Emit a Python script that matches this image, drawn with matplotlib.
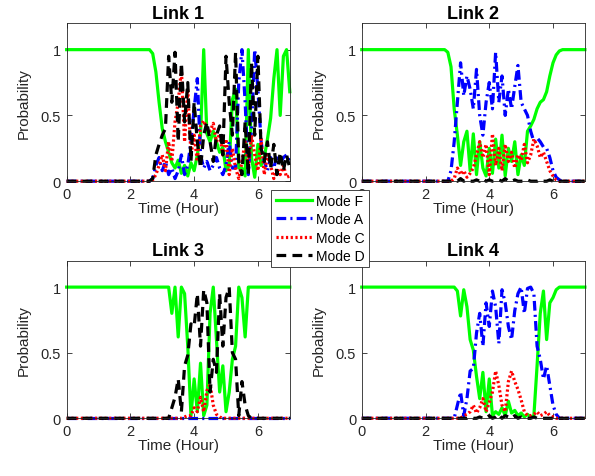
import matplotlib
matplotlib.use("Agg")
import matplotlib.pyplot as plt
import numpy as np

plt.rcParams['font.family'] = ['Liberation Sans', 'DejaVu Sans']
plt.rcParams['lines.scale_dashes'] = False

# Time axis (hours), one sample every 0.1 h
hours = np.arange(71) / 10.0

titles = ['Link 1', 'Link 2', 'Link 3', 'Link 4']
mode_names = ['Mode F', 'Mode A', 'Mode C', 'Mode D']
x_ticks = [0, 2, 4, 6]
y_ticks = [0, 0.5, 1]
y_tick_labels = ['0', '0.5', '1']

# Link 1 (changes from 2.6 h to the end)
link1_F = [1.0] * 26 + [1.0, 0.97, 0.83, 0.6, 0.4, 0.3, 0.22, 0.14, 0.1, 0.16,
                        0.06, 0.12, 0.04, 0.14, 0.08, 0.2, 0.35, 1.0, 0.36, 0.3,
                        0.38, 0.3, 0.22, 0.26, 0.08, 0.12, 0.62, 0.7, 0.1, 0.1,
                        0.04, 1.0, 0.18, 0.03, 0.28, 0.12, 0.18, 0.32, 0.48, 0.78,
                        1.0, 0.5, 0.95, 1.0, 0.68]
link1_A = [0.0] * 26 + [0.0, 0.02, 0.12, 0.18, 0.08, 0.15, 0.05, 0.1, 0.02, 0.08,
                        0.2, 0.05, 0.12, 0.3, 0.55, 0.78, 0.2, 0.1, 0.15, 0.08,
                        0.12, 0.18, 0.1, 0.05, 0.12, 0.3, 0.1, 0.1, 0.75, 1.0,
                        0.6, 0.05, 0.4, 1.0, 0.7, 0.3, 0.15, 0.08, 0.18, 0.1,
                        0.2, 0.14, 0.18, 0.2, 0.15]
link1_C = [0.0] * 26 + [0.0, 0.01, 0.05, 0.12, 0.2, 0.08, 0.3, 0.15, 0.45, 0.6,
                        0.85, 0.3, 0.7, 0.2, 0.35, 0.15, 0.42, 0.46, 0.4, 0.38,
                        0.44, 0.3, 0.36, 0.2, 0.32, 0.05, 0.25, 0.1, 0.02, 0.15,
                        0.3, 0.1, 0.35, 0.2, 0.08, 0.32, 0.05, 0.2, 0.12, 0.02,
                        0.1, 0.05, 0.12, 0.03, 0.04]
link1_D = [0.0] * 26 + [0.0, 0.02, 0.2, 0.28, 0.35, 0.4, 0.95, 0.6, 0.98, 0.3,
                        0.9, 0.45, 0.75, 0.15, 0.6, 0.3, 0.1, 0.35, 0.45, 0.3,
                        0.15, 0.35, 0.42, 0.2, 0.95, 0.6, 0.35, 0.98, 0.15, 0.05,
                        0.45, 0.05, 0.9, 0.35, 0.95, 0.25, 0.15, 0.3, 0.1, 0.28,
                        0.05, 0.22, 0.08, 0.2, 0.1]

# Link 2 (changes from 2.7 h to 6.3 h)
link2_F = [1.0] * 27 + [0.98, 0.87, 0.55, 0.35, 0.12, 0.3, 0.38, 0.08, 0.36, 0.05,
                        0.3, 0.1, 0.04, 0.25, 0.06, 0.32, 0.1, 0.35, 0.04, 0.25,
                        0.15, 0.3, 0.05, 0.2, 0.12, 0.38, 0.42, 0.47, 0.55, 0.6,
                        0.62, 0.68, 0.8, 0.9, 0.96, 0.99, 1.0] + [1.0] * 7
link2_A = [0.0] * 27 + [0.0, 0.08, 0.3, 0.6, 0.9, 0.65, 0.8, 0.7, 0.55, 0.85,
                        0.5, 0.35, 0.6, 0.75, 0.55, 0.98, 0.6, 0.8, 0.5, 0.7,
                        0.55, 0.72, 0.88, 0.6, 0.55, 0.5, 0.38, 0.3, 0.33, 0.3,
                        0.26, 0.25, 0.18, 0.08, 0.03, 0.01, 0.0] + [0.0] * 7
link2_C = [0.0] * 27 + [0.0, 0.0, 0.02, 0.1, 0.05, 0.08, 0.03, 0.06, 0.1, 0.2,
                        0.3, 0.18, 0.28, 0.05, 0.36, 0.12, 0.25, 0.08, 0.28, 0.15,
                        0.22, 0.1, 0.2, 0.16, 0.28, 0.14, 0.2, 0.32, 0.27, 0.18,
                        0.22, 0.15, 0.08, 0.04, 0.01, 0.0, 0.0] + [0.0] * 7
link2_D = [0.0] * 27 + [0.0, 0.0, 0.01, 0.0, 0.02, 0.0, 0.01, 0.0, 0.0, 0.01,
                        0.0, 0.02, 0.0, 0.01, 0.0, 0.0, 0.01, 0.0, 0.02, 0.0,
                        0.0, 0.01, 0.0, 0.0, 0.0, 0.01, 0.0, 0.0, 0.0, 0.01,
                        0.0, 0.0, 0.01, 0.0, 0.0, 0.0, 0.0] + [0.0] * 7

# Link 3 (changes from 3.2 h to 5.8 h)
link3_F = [1.0] * 32 + [1.0, 0.8, 1.0, 0.62, 1.0, 0.95, 0.55, 0.02, 0.3, 0.05,
                        0.42, 0.02, 0.1, 0.8, 1.0, 0.6, 0.2, 0.4, 0.05, 0.2,
                        0.45, 0.55, 1.0, 0.92, 0.62, 1.0, 1.0] + [1.0] * 12
link3_A = [0.0] * 71
link3_C = [0.0] * 32 + [0.0, 0.0, 0.0, 0.0, 0.0, 0.01, 0.02, 0.02, 0.08, 0.05,
                        0.16, 0.05, 0.21, 0.26, 0.1, 0.03, 0.01, 0.0, 0.0, 0.0,
                        0.0, 0.0, 0.0, 0.0, 0.0, 0.0, 0.0] + [0.0] * 12
link3_D = [0.0] * 32 + [0.0, 0.08, 0.16, 0.3, 0.05, 0.4, 0.48, 0.72, 0.7, 0.95,
                        0.55, 0.98, 0.88, 0.2, 0.45, 0.35, 0.95, 0.55, 0.92, 1.0,
                        0.5, 0.45, 0.02, 0.28, 0.1, 0.02, 0.0] + [0.0] * 12

# Link 4 (changes from 2.9 h to 6.2 h)
link4_F = [1.0] * 29 + [1.0, 0.97, 0.78, 0.98, 0.85, 0.6, 0.52, 0.32, 0.15, 0.35,
                        0.05, 0.3, 0.02, 0.05, 0.03, 0.08, 0.02, 0.13, 0.04, 0.06,
                        0.02, 0.04, 0.01, 0.03, 0.01, 0.02, 0.4, 0.8, 0.97, 0.6,
                        0.88, 0.92, 0.98, 1.0] + [1.0] * 8
link4_A = [0.0] * 29 + [0.0, 0.1, 0.2, 0.02, 0.15, 0.36, 0.38, 0.65, 0.8, 0.55,
                        0.88, 0.7, 0.97, 0.85, 0.57, 0.98, 0.88, 0.7, 0.6, 0.82,
                        0.95, 1.0, 0.8, 0.99, 1.0, 0.95, 0.55, 0.45, 0.3, 0.4,
                        0.25, 0.1, 0.03, 0.0] + [0.0] * 8
link4_C = [0.0] * 29 + [0.0, 0.0, 0.0, 0.02, 0.03, 0.05, 0.1, 0.04, 0.08, 0.15,
                        0.05, 0.12, 0.2, 0.36, 0.25, 0.1, 0.05, 0.28, 0.36, 0.28,
                        0.22, 0.14, 0.05, 0.02, 0.02, 0.03, 0.05, 0.02, 0.03, 0.05,
                        0.02, 0.01, 0.0, 0.0] + [0.0] * 8
link4_D = [0.0] * 29 + [0.0, 0.0, 0.0, 0.0, 0.0, 0.01, 0.0, 0.0, 0.01, 0.0,
                        0.0, 0.02, 0.0, 0.01, 0.03, 0.0, 0.02, 0.01, 0.0, 0.02,
                        0.0, 0.01, 0.0, 0.0, 0.0, 0.01, 0.0, 0.0, 0.0, 0.0,
                        0.0, 0.0, 0.0, 0.0] + [0.0] * 8

links = [[link1_F, link1_A, link1_C, link1_D],
         [link2_F, link2_A, link2_C, link2_D],
         [link3_F, link3_A, link3_C, link3_D],
         [link4_F, link4_A, link4_C, link4_D]]

# Line styles (MATLAB-like g-, b-., r:, k--)
styles = [dict(color=(0, 1, 0), linestyle='-'),
          dict(color=(0, 0, 1), dashes=[7, 3, 1.5, 3]),
          dict(color=(1, 0, 0), dashes=[1.6, 1.8]),
          dict(color='k', dashes=[7, 4.5])]

fig = plt.figure(figsize=(5.95, 4.77), dpi=100)
positions = [[0.112, 0.618, 0.375, 0.331],
             [0.608, 0.618, 0.375, 0.331],
             [0.112, 0.121, 0.375, 0.330],
             [0.608, 0.121, 0.375, 0.330]]

axis_grey = (0.15, 0.15, 0.15)
handles = []
for k in range(4):
    ax = fig.add_axes(positions[k])
    for series, st in zip(links[k], styles):
        line, = ax.plot(hours, series, linewidth=2.3, clip_on=False, **st)
        if k == 0:
            handles.append(line)

    ax.set_xlim(0, 7)
    ax.set_ylim(0, 1.2)
    ax.set_xticks(x_ticks)
    ax.set_yticks(y_ticks)
    ax.set_yticklabels(y_tick_labels)
    ax.tick_params(direction='in', top=True, right=True, length=3.5,
                   width=0.6, labelsize=10.5, colors=axis_grey, pad=4)
    for sp in ax.spines.values():
        sp.set_linewidth(0.6)
        sp.set_color(axis_grey)
    ax.set_title(titles[k], fontsize=13, fontweight='bold', pad=4)
    ax.set_xlabel('Time (Hour)', fontsize=11, color=axis_grey, labelpad=0)
    ax.set_ylabel('Probability', fontsize=11, color=axis_grey, labelpad=7)

leg = fig.legend(handles, mode_names, loc='center', bbox_to_anchor=(0.538, 0.519),
                 fontsize=10, handlelength=2.6, handletextpad=0.3,
                 borderpad=0.3, labelspacing=0.3, fancybox=False,
                 framealpha=1, edgecolor=axis_grey)
leg.get_frame().set_linewidth(0.6)

fig.savefig("out.png", dpi=100)
